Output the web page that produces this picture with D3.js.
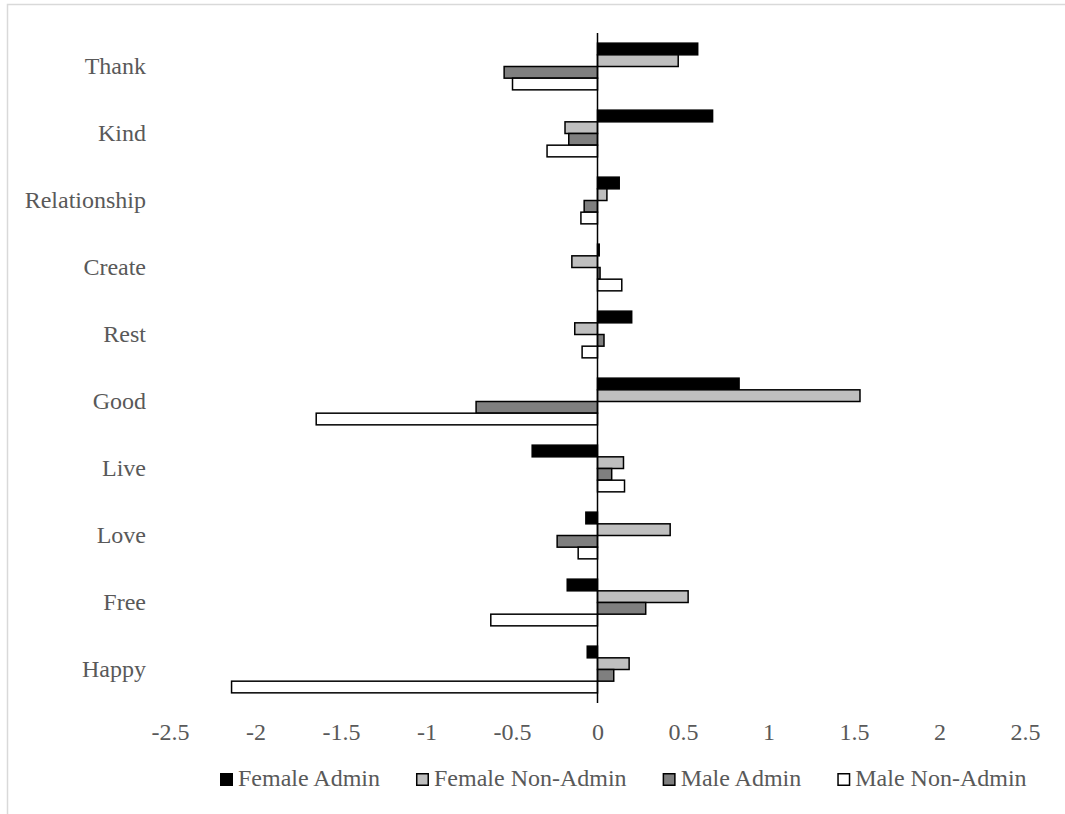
<!DOCTYPE html>
<html>
<head>
<meta charset="utf-8">
<script src="https://cdn.jsdelivr.net/npm/d3@7"></script>
<style>
  body { margin: 0; background: #fff; }
  svg { display: block; font-family: "Liberation Serif", "Times New Roman", serif; }
</style>
</head>
<body>
<svg id="canvas"></svg>
<script>
// data
let categories = ['Thank', 'Kind', 'Relationship', 'Create', 'Rest', 'Good', 'Live', 'Love', 'Free', 'Happy']
let series = ['Female Admin', 'Female Non-Admin', 'Male Admin', 'Male Non-Admin']
let femaleAdmin    = [0.586, 0.673, 0.127, 0.01, 0.2, 0.828, -0.382, -0.068, -0.177, -0.06]
let femaleNonAdmin = [0.472, -0.19, 0.055, -0.15, -0.133, 1.535, 0.152, 0.425, 0.53, 0.185]
let maleAdmin      = [-0.546, -0.168, -0.078, 0.015, 0.038, -0.71, 0.083, -0.236, 0.282, 0.095]
let maleNonAdmin   = [-0.497, -0.295, -0.097, 0.142, -0.09, -1.645, 0.158, -0.113, -0.624, -2.14]
let tickValues = [-2.5, -2, -1.5, -1, -0.5, 0, 0.5, 1, 1.5, 2, 2.5]

let colors = ['#000000', '#bfbfbf', '#7f7f7f', '#ffffff']
let values = [femaleAdmin, femaleNonAdmin, maleAdmin, maleNonAdmin]

//Dimensions
let width = 1065
let height = 814
let textColor = '#595959'
let fontSize = '24px'

let svg = d3.select('#canvas')
            .attr('width', width)
            .attr('height', height)

// outer chart frame (only top and left edges are visible)
svg.append('rect')
   .attr('x', 7.5).attr('y', 4.5)
   .attr('width', width + 20).attr('height', height + 20)
   .attr('fill', 'none')
   .attr('stroke', '#d9d9d9')
   .attr('stroke-width', 1.5)

let x = d3.scaleLinear().domain([-2.5, 2.5]).range([170, 1025])
let y0 = d3.scaleBand().domain(categories).range([33, 703])
let y1 = d3.scaleBand().domain(series).range([0, y0.bandwidth()]).paddingOuter(0.87)

// bars
let groups = svg.selectAll('.group')
    .data(categories)
    .enter()
    .append('g')
    .attr('class', 'group')
    .attr('transform', (c) => 'translate(0,' + y0(c) + ')')

groups.selectAll('rect')
    .data((c, i) => series.map((s, j) => ({ s: s, v: values[j][i], color: colors[j] })))
    .enter()
    .append('rect')
    .attr('x', (d) => Math.min(x(0), x(d.v)))
    .attr('y', (d) => y1(d.s))
    .attr('width', (d) => Math.abs(x(d.v) - x(0)))
    .attr('height', y1.bandwidth())
    .attr('fill', (d) => d.color)
    .attr('stroke', '#000')
    .attr('stroke-width', 1.5)

// zero line
svg.append('line')
   .attr('x1', x(0)).attr('x2', x(0))
   .attr('y1', 33).attr('y2', 703)
   .attr('stroke', '#000')
   .attr('stroke-width', 1.5)

// x axis labels
let xAxis = svg.append('g')
    .attr('transform', 'translate(0,723)')
    .call(d3.axisBottom(x).tickValues(tickValues).tickSize(0).tickPadding(0).tickFormat((d) => String(d)))
xAxis.select('.domain').remove()
xAxis.selectAll('text')
     .attr('dy', '0.71em')
     .style('font-size', fontSize)
     .style('font-family', '"Liberation Serif", serif')
     .attr('fill', textColor)

// category labels
let yAxis = svg.append('g')
    .attr('transform', 'translate(146,0)')
    .call(d3.axisLeft(y0).tickSize(0).tickPadding(0))
yAxis.select('.domain').remove()
yAxis.selectAll('text')
     .style('font-size', fontSize)
     .style('font-family', '"Liberation Serif", serif')
     .attr('fill', textColor)

// legend
let legend = svg.append('g').attr('id', 'legend')
let lx = 220
for (let i = 0; i < series.length; i++) {
    legend.append('rect')
          .attr('x', lx + 0.75).attr('y', 773.75)
          .attr('width', 11.5).attr('height', 11.5)
          .attr('fill', colors[i])
          .attr('stroke', '#000')
          .attr('stroke-width', 1.5)
    let t = legend.append('text')
          .attr('x', lx + 18)
          .attr('y', 786)
          .attr('fill', textColor)
          .style('font-size', fontSize)
          .text(series[i])
    lx = lx + 18 + t.node().getComputedTextLength() + 36
}
</script>
</body>
</html>
